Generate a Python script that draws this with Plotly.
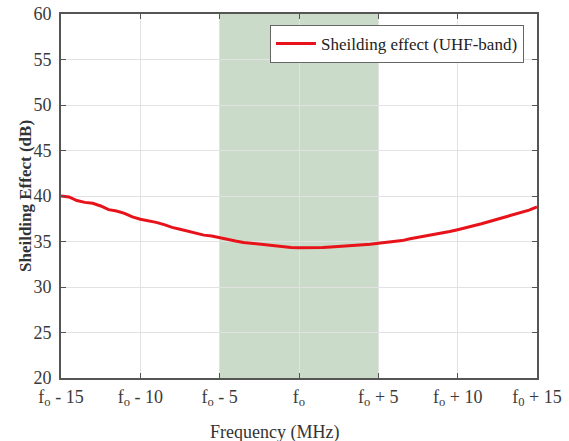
import plotly.graph_objects as go

freq = [-15 + 0.5 * i for i in range(61)]
shielding = [40.0, 39.9, 39.5, 39.3, 39.2, 38.9, 38.5, 38.35, 38.1, 37.7,
             37.45, 37.3, 37.1, 36.85, 36.55, 36.35, 36.15, 35.95, 35.7, 35.6,
             35.4, 35.2, 35.05, 34.9, 34.8, 34.7, 34.6, 34.5, 34.4, 34.35,
             34.3, 34.3, 34.32, 34.35, 34.4, 34.45, 34.5, 34.55, 34.6, 34.7,
             34.8, 34.9, 34.95, 35.1, 35.3, 35.45, 35.6, 35.75, 35.9, 36.1,
             36.3, 36.5, 36.7, 36.95, 37.2, 37.45, 37.65, 37.95, 38.15, 38.45, 38.8]

xtick_vals = [-15, -10, -5, 0, 5, 10, 15]
xtick_text = ["f<sub>o</sub> - 15", "f<sub>o</sub> - 10", "f<sub>o</sub> - 5", "f<sub>o</sub>",
              "f<sub>o</sub> + 5", "f<sub>o</sub> + 10", "f<sub>0</sub> + 15"]
ytick_vals = [20, 25, 30, 35, 40, 45, 50, 55, 60]
band = [-5, 5]
x_title = "Frequency (MHz)"
y_title = "Sheilding Effect (dB)"
series_name = "Sheilding effect (UHF-band)"

font_family = "Liberation Serif"
tick_color = "#3a3a3a"

fig = go.Figure()
fig.add_trace(go.Scatter(x=freq, y=shielding, mode="lines",
                         line=dict(color="#e8121a", width=3),
                         name=series_name))

fig.add_shape(type="rect", xref="x", yref="y", x0=band[0], x1=band[1], y0=20, y1=60,
              fillcolor="#cbdbca", line=dict(width=0), layer="below")

# axis titles as annotations (positioned as in the reference)
fig.add_annotation(text=x_title, xref="paper", yref="paper", x=0.448, y=-0.151,
                   xanchor="center", yanchor="middle", showarrow=False,
                   font=dict(family=font_family, size=18, color="#333333"))
fig.add_annotation(text="<b>" + y_title + "</b>", xref="paper", yref="paper",
                   x=-0.0756, y=0.5, xanchor="center", yanchor="middle",
                   textangle=-90, showarrow=False,
                   font=dict(family=font_family, size=17, color="#333333"))

fig.update_layout(
    width=569, height=441,
    margin=dict(l=61, r=32, t=14, b=63),
    paper_bgcolor="white", plot_bgcolor="white",
    font=dict(family=font_family, size=16, color=tick_color),
    showlegend=True,
    legend=dict(x=0.439, y=0.97, xanchor="left", yanchor="top",
                bgcolor="white", bordercolor="#666666", borderwidth=1,
                font=dict(family=font_family, size=17, color="#222222"),
                itemwidth=40, tracegroupgap=0),
    xaxis=dict(range=[-15, 15], tickvals=xtick_vals, ticktext=xtick_text,
               showgrid=True, gridcolor="#e2e2e2", gridwidth=1,
               showline=True, linecolor="#555555", linewidth=2, mirror="ticks",
               ticks="inside", ticklen=5, tickcolor="#555555",
               zeroline=False, ticklabelstandoff=1, automargin=False,
               tickfont=dict(family=font_family, size=18, color=tick_color)),
    yaxis=dict(range=[20, 60], tickvals=ytick_vals, automargin=False,
               showgrid=True, gridcolor="#e2e2e2", gridwidth=1,
               showline=True, linecolor="#555555", linewidth=2, mirror="ticks",
               ticks="inside", ticklen=5, tickcolor="#555555",
               zeroline=False, ticklabelstandoff=4,
               tickfont=dict(family=font_family, size=18, color=tick_color)),
)

fig.write_html("out.html")
